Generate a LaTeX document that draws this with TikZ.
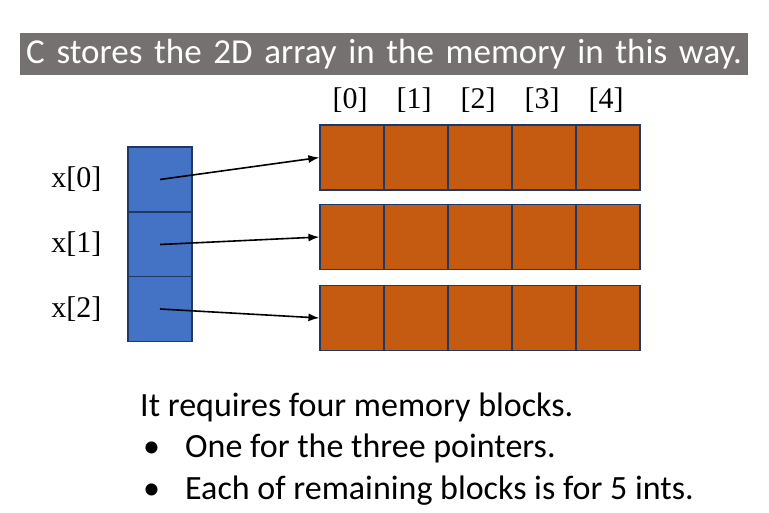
\documentclass[tikz,border=0pt]{standalone}
\usepackage{fontspec}
\setmainfont{Liberation Serif}
\newfontfamily\calib{Carlito}
\usetikzlibrary{arrows.meta,positioning}
\definecolor{slidegray}{HTML}{767171}
\definecolor{ptrblue}{HTML}{4472C4}
\definecolor{intorange}{HTML}{C55A11}
\definecolor{cellline}{HTML}{203864}
\begin{document}
\begin{tikzpicture}[x=1pt, y=-1pt,
    ptr/.style={draw=cellline, line width=1.2pt, fill=ptrblue, minimum width=64pt, minimum height=65pt, inner sep=0pt},
    cell/.style={draw=cellline, line width=1.2pt, fill=intorange, minimum width=64pt, minimum height=65pt, inner sep=0pt},
    lbl/.style={font=\fontsize{30}{34}\selectfont},
    body/.style={font=\calib\fontsize{34}{40}\selectfont, anchor=base west, inner sep=0pt}]
    \useasboundingbox (0,0) rectangle (769,513);
    % title bar
    \node[fill=slidegray, text=white, minimum width=728pt, minimum height=42pt, anchor=north west,
          font=\calib\fontsize{35}{38}\selectfont, text width=716pt, align=left, inner sep=6pt] (title) at (20,33) {C stores the 2D array in the memory in this way.};
    % pointer column
    \foreach \i/\y in {0/179.5, 1/244.5, 2/309}{
        \node[ptr] (p\i) at (160,\y) {};
        \node[lbl, anchor=east] (x\i) at (105,\y) {x[\i]};
    }
    % rows of ints
    \foreach \i/\y in {0/157.5, 1/237, 2/318}{
        \foreach \j in {0,...,4}{
            \node[cell] (c\i\j) at (352+64*\j,\y) {};
        }
    }
    % column indices
    \foreach \j in {0,...,4}{
        \node[lbl] (idx\j) at (350+64*\j,100) {[\j]};
    }
    % pointers
    \foreach \i in {0,1,2}{
        \draw[-{Latex[length=11pt,width=8pt]}, line width=1.6pt] (p\i.center) -- (c\i0.west);
    }
    % text
    \node[body] (t0) at (140,416) {It requires four memory blocks.};
    \node[body] (b1) at (143,457) {\textbullet};
    \node[body] (t1) at (185,457) {One for the three pointers.};
    \node[body] (b2) at (143,499) {\textbullet};
    \node[body] (t2) at (185,499) {Each of remaining blocks is for 5 ints.};
\end{tikzpicture}
\end{document}
